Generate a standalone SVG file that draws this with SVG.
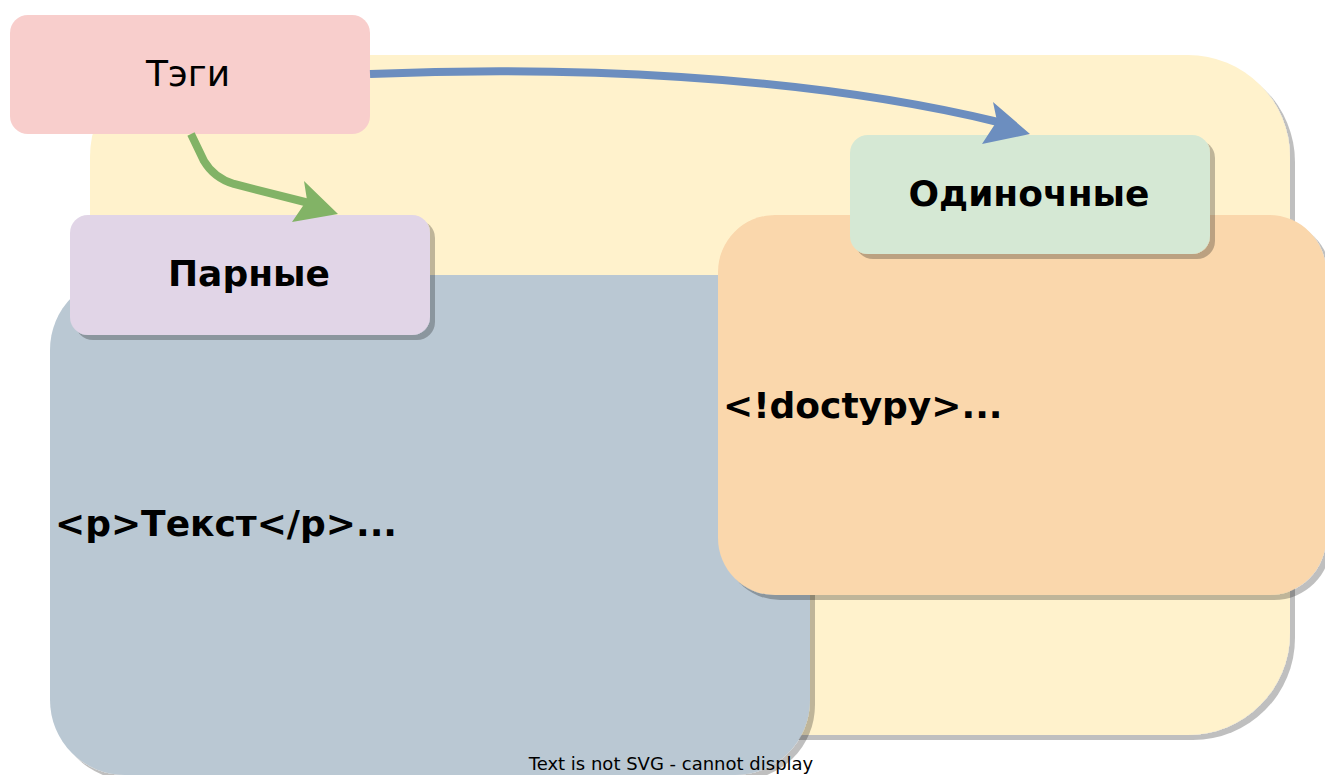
<svg xmlns="http://www.w3.org/2000/svg" width="1325" height="775" viewBox="0 0 1325 775">
<defs>
<filter id="sh" x="-5%" y="-5%" width="115%" height="115%">
<feOffset in="SourceAlpha" dx="5" dy="5" result="o"/>
<feFlood flood-color="#000" flood-opacity="0.25"/>
<feComposite in2="o" operator="in"/>
<feMerge><feMergeNode/><feMergeNode in="SourceGraphic"/></feMerge>
</filter>
</defs>
<style>
.lbl{font-family:"DejaVu Sans","Liberation Sans",sans-serif;fill:#000}
.b{font-weight:bold;font-size:36px}
.r{font-size:36px}
.c{text-anchor:middle}
.edge{fill:none;stroke-width:8}
</style>
<rect width="1325" height="775" fill="#ffffff"/>
<g id="node-yellow"><rect x="90" y="55" width="1200" height="680" rx="102" ry="102" fill="#fff2cc" filter="url(#sh)"/></g>
<g id="node-pairs-area"><rect x="50" y="275" width="760" height="500" rx="75" ry="75" fill="#bac8d3" filter="url(#sh)"/>
<text class="lbl b" x="55" y="536">&lt;p&gt;Текст&lt;/p&gt;...</text></g>
<g id="node-single-area"><rect x="718" y="215" width="608" height="380" rx="57" ry="57" fill="#fad7ac" filter="url(#sh)"/>
<text class="lbl b" x="723" y="418">&lt;!doctypy&gt;...</text></g>
<g id="node-pairs"><rect x="70" y="215" width="360" height="120" rx="18" ry="18" fill="#e1d5e7" filter="url(#sh)"/>
<text class="lbl b c" x="249" y="286">Парные</text></g>
<g id="node-single"><rect x="850" y="135" width="360" height="119" rx="18" ry="18" fill="#d5e8d4" filter="url(#sh)"/>
<text class="lbl b c" x="1029" y="206">Одиночные</text></g>
<g id="node-tags"><rect x="10" y="15" width="360" height="119" rx="18" ry="18" fill="#f8cecc"/>
<text class="lbl r c" x="188" y="86">Тэги</text></g>
<g id="connectors">
<path class="edge" stroke="#6c8ebf" d="M370,74 C560,66 800,74 998,122"/>
<polygon fill="#6c8ebf" points="1030,134 993,102 997,121 982,144"/>
<path class="edge" stroke="#82b366" d="M191,134 L204,161 Q214,178 234,184 L309,203"/>
<polygon fill="#82b366" points="338,214 304,181 307,200 292,222"/>
</g>
<text class="lbl c" x="671" y="770" font-size="18">Text is not SVG - cannot display</text>
</svg>
